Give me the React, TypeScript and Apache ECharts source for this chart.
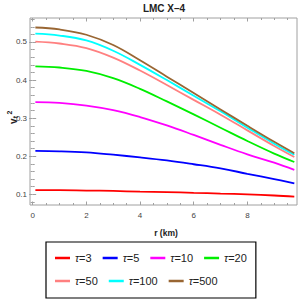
import React, { useEffect, useRef } from "react";
import * as echarts from "echarts";

const R = [0.1, 1, 2, 3, 4, 5, 6, 7, 8, 9, 9.75];
const TAU3 = [0.111, 0.111, 0.11, 0.109, 0.107, 0.106, 0.104, 0.102, 0.1, 0.097, 0.094];
const TAU5 = [0.214, 0.213, 0.21, 0.204, 0.197, 0.189, 0.179, 0.168, 0.154, 0.14, 0.129];
const TAU10 = [0.342, 0.34, 0.333, 0.321, 0.303, 0.281, 0.256, 0.23, 0.205, 0.183, 0.164];
const TAU20 = [0.436, 0.433, 0.424, 0.405, 0.377, 0.344, 0.31, 0.275, 0.24, 0.207, 0.185];
const TAU50 = [0.501, 0.496, 0.484, 0.459, 0.425, 0.387, 0.348, 0.309, 0.268, 0.227, 0.198];
const TAU100 = [0.522, 0.517, 0.504, 0.477, 0.44, 0.4, 0.359, 0.318, 0.275, 0.233, 0.204];
const TAU500 = [0.538, 0.533, 0.519, 0.492, 0.452, 0.409, 0.366, 0.323, 0.28, 0.238, 0.208];

const SERIES_NAMES = ["τ=3", "τ=5", "τ=10", "τ=20", "τ=50", "τ=100", "τ=500"];
const SERIES_VALUES = [TAU3, TAU5, TAU10, TAU20, TAU50, TAU100, TAU500];
const COLORS = ["#ff0000", "#0000ff", "#ff00ff", "#00ee00", "#ff8080", "#00ffff", "#996633"];

const X_MAJOR = [0, 2, 4, 6, 8];
const X_MINOR = [0.5, 1, 1.5, 2.5, 3, 3.5, 4.5, 5, 5.5, 6.5, 7, 7.5, 8.5, 9, 9.5];
const Y_MAJOR = [0.1, 0.2, 0.3, 0.4, 0.5];
const Y_MINOR = [0.08, 0.12, 0.14, 0.16, 0.18, 0.22, 0.24, 0.26, 0.28, 0.32, 0.34, 0.36, 0.38, 0.42, 0.44, 0.46, 0.48, 0.52, 0.54, 0.56];

const X_MIN = -0.1;
const X_MAX = 9.85;
const Y_MIN = 0.072;
const Y_MAX = 0.563;

const FONT = "Liberation Sans";
const FRAME = "#a0a0a0";

function xAxis(position: string, ticks: number[], len: number, labels: boolean) {
  return {
    type: "value",
    position,
    min: X_MIN,
    max: X_MAX,
    axisLine: { show: false },
    splitLine: { show: false },
    axisTick: { show: true, inside: true, length: len, customValues: ticks, lineStyle: { color: FRAME, width: 1 } },
    axisLabel: {
      show: labels,
      customValues: ticks,
      color: "#444",
      fontSize: 8,
      fontFamily: FONT,
      margin: 6,
      formatter: (v: number) => String(v),
    },
  };
}

function yAxis(position: string, ticks: number[], len: number, labels: boolean) {
  return {
    type: "value",
    position,
    min: Y_MIN,
    max: Y_MAX,
    axisLine: { show: false },
    splitLine: { show: false },
    axisTick: { show: true, inside: true, length: len, customValues: ticks, lineStyle: { color: FRAME, width: 1 } },
    axisLabel: {
      show: labels,
      customValues: ticks,
      color: "#444",
      fontSize: 8,
      fontFamily: FONT,
      margin: 3,
      formatter: (v: number) => v.toFixed(1),
    },
  };
}

export default function App() {
  const ref = useRef<HTMLDivElement>(null);
  useEffect(() => {
    document.body.style.margin = "0";
    const chart = echarts.init(ref.current!, undefined, { renderer: "svg" });
    chart.setOption({
      animation: false,
      backgroundColor: "#fff",
      grid: { left: 30, right: 3, top: 18, bottom: 95, show: true, borderColor: FRAME, borderWidth: 1, backgroundColor: "transparent" },
      xAxis: [
        xAxis("bottom", X_MAJOR, 3.5, true),
        xAxis("bottom", X_MINOR, 2, false),
        xAxis("top", X_MAJOR, 3.5, false),
        xAxis("top", X_MINOR, 2, false),
      ],
      yAxis: [
        yAxis("left", Y_MAJOR, 3.5, true),
        yAxis("left", Y_MINOR, 2, false),
        yAxis("right", Y_MAJOR, 3.5, false),
        yAxis("right", Y_MINOR, 2, false),
      ],
      legend: {
        left: 46,
        top: 242,
        width: 200,
        orient: "horizontal",
        align: "left",
        padding: [10, 9, 11, 9],
        itemGap: 11,
        itemWidth: 15,
        itemHeight: 2.5,
        icon: "rect",
        borderColor: "#000",
        borderWidth: 1.2,
        data: SERIES_NAMES,
        formatter: (name: string) => `{i|τ}{n|${name.slice(1)}}`,
        textStyle: {
          fontSize: 11,
          color: "#222",
          fontFamily: FONT,
          lineHeight: 12,
          rich: {
            i: { fontStyle: "italic", fontSize: 11, fontFamily: FONT, color: "#222", lineHeight: 12 },
            n: { fontSize: 11, fontFamily: FONT, color: "#222", lineHeight: 12 },
          },
        },
      },
      graphic: [
        {
          type: "text",
          x: 164,
          y: 8,
          style: { text: "LMC X–4", font: `bold 10px "${FONT}"`, fill: "#222", align: "center", verticalAlign: "middle" },
        },
        {
          type: "text",
          x: 166,
          y: 232.5,
          style: { text: "r (km)", font: `bold 8.5px "${FONT}"`, fill: "#222", align: "center", verticalAlign: "middle" },
        },
        {
          type: "group",
          x: 13,
          y: 117,
          rotation: Math.PI / 2,
          children: [
            { type: "text", x: -7, y: 0, style: { text: "v", font: `bold 10px "${FONT}"`, fill: "#222", align: "left", verticalAlign: "middle" } },
            { type: "text", x: -1.2, y: 2.5, style: { text: "t", font: `bold 7px "${FONT}"`, fill: "#222", align: "left", verticalAlign: "middle" } },
            { type: "text", x: 2.6, y: -3.5, style: { text: "2", font: `bold 7px "${FONT}"`, fill: "#222", align: "left", verticalAlign: "middle" } },
          ],
        },
      ],
      series: SERIES_NAMES.map((name, i) => ({
        name,
        type: "line",
        xAxisIndex: 0,
        yAxisIndex: 0,
        smooth: 0.4,
        showSymbol: false,
        symbol: "none",
        color: COLORS[i],
        lineStyle: { color: COLORS[i], width: 1.8 },
        itemStyle: { color: COLORS[i] },
        data: R.map((r, j) => [r, SERIES_VALUES[i][j]]),
      })),
    });
    return () => chart.dispose();
  }, []);
  return <div ref={ref} style={{ position: "absolute", left: 0, top: 0, width: 300, height: 300 }} />;
}
